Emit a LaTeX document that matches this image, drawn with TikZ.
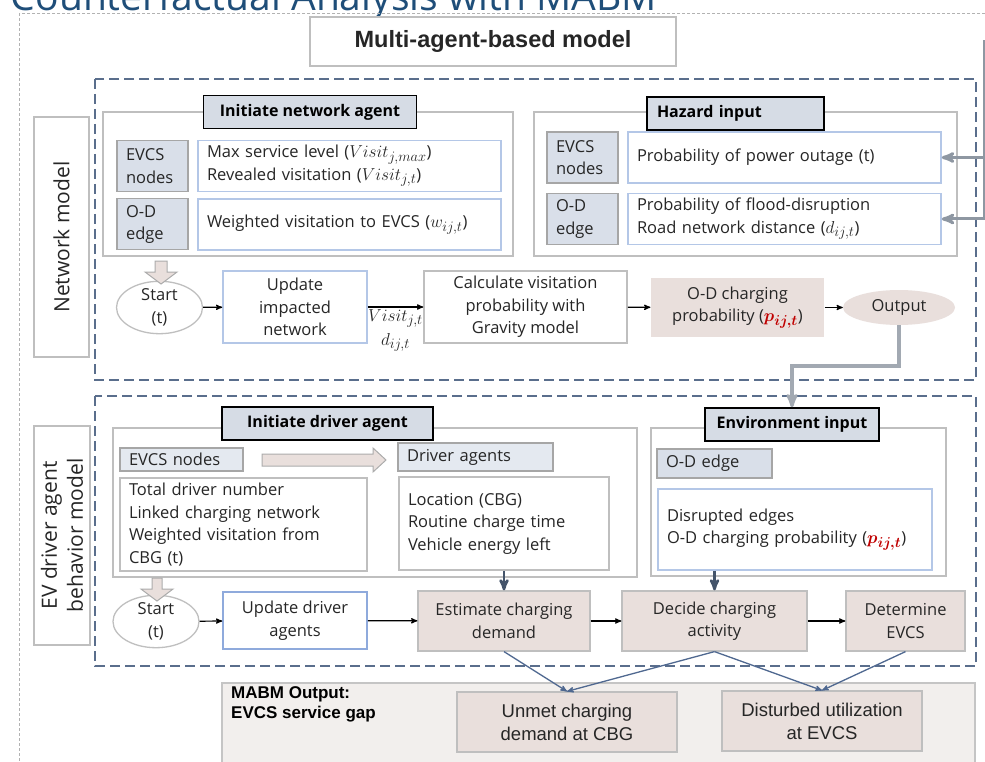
\documentclass[tikz,border=0pt]{standalone}
\usepackage{fontspec}
\usepackage{amsmath}
\usepackage{bm}
\setmainfont{Open Sans}
\newfontfamily\headfont{Liberation Sans}
\usetikzlibrary{positioning,arrows,shapes.geometric}

\definecolor{dashblue}{HTML}{5A6E8C}
\definecolor{boxgrey}{HTML}{BFBFBF}
\definecolor{tagfill}{HTML}{D9DFE9}
\definecolor{titlefill}{HTML}{D6DCE5}
\definecolor{lineblue}{HTML}{B4C7E7}
\definecolor{midblue}{HTML}{8FAADC}
\definecolor{rosefill}{HTML}{E9DFDC}
\definecolor{outfill}{HTML}{F2EFED}
\definecolor{navyarrow}{HTML}{44546A}
\definecolor{feedgrey}{HTML}{8E97A2}
\definecolor{outgrey}{HTML}{A2A9B2}
\definecolor{linkblue}{HTML}{4F6890}
\definecolor{headblue}{HTML}{1F4E79}
\definecolor{pred}{HTML}{C00000}

% larger math inside the text lines
\newcommand{\mv}[1]{{\fontsize{19}{22}\selectfont$#1$}}
\newcommand{\pij}{\textcolor{pred}{\mv{\bm{p_{ij,t}}}}}

\begin{document}
\begin{tikzpicture}[x=1pt,y=-1pt,>=stealth',
  every node/.style={inner sep=0pt,text=black!85,font=\fontsize{16.5}{22.5}\selectfont},
  group box/.style={draw=boxgrey,line width=1.8pt},
  head box/.style={draw=black,fill=titlefill,line width=1.6pt,text=black,
    font=\fontsize{16}{19}\selectfont\bfseries,minimum height=33pt},
  tag box/.style={draw=gray!70,fill=tagfill,line width=1.3pt,align=left,inner xsep=9pt},
  info box/.style={draw=lineblue,fill=white,line width=1.5pt,align=left,inner xsep=9pt},
  plain box/.style={draw=boxgrey,fill=white,line width=1.5pt,align=center},
  rose box/.style={draw=boxgrey,fill=rosefill,line width=1.2pt,align=center},
  start node/.style={ellipse,draw=boxgrey,fill=white,line width=1.3pt,align=center,
    minimum width=86pt,minimum height=46pt},
  side box/.style={draw=boxgrey,fill=white,line width=1.8pt,rotate=90,align=center,
    font=\fontsize{21}{26}\selectfont},
  model frame/.style={draw=dashblue,line width=1.7pt,dash pattern=on 10pt off 5pt},
  hollow arrow/.style={draw=gray!65,fill=rosefill,line width=1pt},
  flow/.style={->,line width=1.2pt,black},
  drop/.style={->,line width=2.6pt,navyarrow},
  feed/.style={->,line width=3pt,feedgrey},
  link/.style={->,line width=1.3pt,linkblue},
  out text/.style={font=\headfont\fontsize{18.5}{23}\selectfont}]

\useasboundingbox (0,0) rectangle (985,762);
\clip (0,0) rectangle (985,762);
\fill[white] (0,0) rectangle (985,762);

\node[anchor=base east,text=headblue,font=\fontsize{39}{40}\selectfont] (slidetitle) at (657,11) {Counterfactual Analysis with MABM};
\draw[gray!60,line width=0.8pt,dash pattern=on 3pt off 2pt] (19,13) rectangle (1010,800);

\node[group box,fill=white,minimum width=366pt,minimum height=49pt,
  font=\headfont\bfseries\fontsize{23.5}{26}\selectfont] (mabm) at (493,41.5) {Multi-agent-based model};

% network model
\draw[model frame] (95,79) rectangle (976,380);
\node[side box,minimum width=240pt,minimum height=55pt] (netside) at (61.5,237) {Network model};
\draw[group box] (103,112) rectangle (513,256);
\draw[group box] (534,112) rectangle (957,256);
\node[head box,minimum width=213pt] (netinit) at (310,112) {Initiate network agent};
\node[tag box,text width=53pt,minimum height=51pt] (evcsA) at (152.5,166) {EVCS\\nodes};
\node[tag box,text width=53pt,minimum height=51pt,below=6pt of evcsA] (odA) {O-D\\edge};
\node[info box,text width=285pt,minimum height=51pt] (visitA) at (349.5,166)
  {Max service level (\mv{Visit_{j,max}})\\Revealed visitation (\mv{Visit_{j,t}})};
\node[info box,text width=285pt,minimum height=51pt,below=6pt of visitA] (weightA)
  {Weighted visitation to EVCS (\mv{w_{ij,t}})};

\node[head box,minimum width=177pt,text width=157pt,align=left,inner xsep=10pt] (hazard) at (735.5,113.5) {Hazard input};
\node[tag box,text width=53pt,minimum height=51pt] (evcsB) at (582.5,157.5) {EVCS\\nodes};
\node[tag box,text width=53pt,minimum height=51pt,below=9pt of evcsB] (odB) {O-D\\edge};
\node[info box,text width=295pt,minimum height=51pt] (powerB) at (784.5,157.5) {Probability of power outage (t)};
\node[info box,text width=295pt,minimum height=51pt,below=9pt of powerB] (floodB)
  {Probability of flood-disruption\\Road network distance (\mv{d_{ij,t}})};

\coordinate (feedtop) at (984,40);
\draw[feed] (feedtop) |- (powerB.east);
\draw[feed] (feedtop) |- (floodB.east);

\node[start node] (startA) at (159.5,307.5) {Start\\(t)};
\node[info box,align=center,inner xsep=0pt,minimum width=144pt,minimum height=72pt] (updA) at (295,307) {Update\\impacted\\network};
\node[plain box,minimum width=203pt,minimum height=72pt] (calcA) at (525.5,307) {Calculate visitation\\probability with\\Gravity model};
\node[rose box,draw=none,minimum width=173pt,minimum height=59pt] (probA) at (737.5,307.5)
  {O-D charging\\probability (\pij)};
\node[ellipse,fill=rosefill,minimum width=112pt,minimum height=35pt] (outA) at (899,307.5) {Output};

\draw[hollow arrow] (155,261) -- (167,261) -- (167,272) -- (177,272) -- (161,284) -- (145,272) -- (155,272) -- cycle;
\draw[flow] (startA) -- (updA);
\draw[flow] (updA) -- node[below=2pt,align=center,font=\fontsize{19}{24}\selectfont] (flowlab) {$Visit_{j,t}$\\$d_{ij,t}$} (calcA);
\draw[flow] (calcA) -- (probA);
\draw[flow] (probA) -- (outA);

% driver model
\draw[model frame] (95,396) rectangle (976,666);
\node[side box,minimum width=219pt,minimum height=56pt] (drvside) at (62,535.5) {EV driver agent\\behavior model};
\draw[group box] (113,428) rectangle (637,577);
\draw[group box] (651,428) rectangle (946,576);
\node[head box,minimum width=211pt] (drvinit) at (327.5,423.5) {Initiate driver agent};
\node[tag box,fill=tagfill!70,text width=105pt,minimum height=23pt] (evcsC) at (181.5,459.5) {EVCS nodes};
\draw[hollow arrow] (262,454) -- (373,454) -- (373,448) -- (386,460) -- (373,472) -- (373,466) -- (262,466) -- cycle;
\node[tag box,fill=tagfill!70,text width=137pt,minimum height=28pt] (drvC) at (475.5,457) {Driver agents};
\node[plain box,align=left,inner xsep=9pt,text width=229pt,minimum height=93pt] (totalC) at (243.5,524.5)
  {Total driver number\\Linked charging network\\Weighted visitation from\\CBG (t)};
\node[plain box,align=left,inner xsep=9pt,text width=192pt,minimum height=93pt] (locC) at (504,523.5)
  {Location (CBG)\\Routine charge time\\Vehicle energy left};

\node[head box,minimum width=174pt] (envC) at (792,424.5) {Environment input};
\node[tag box,text width=97pt,minimum height=29pt] (odC) at (714.5,463.5) {O-D edge};
\node[info box,text width=256pt,minimum height=81pt] (disC) at (795,529.5)
  {Disrupted edges\\O-D charging probability (\pij)};

\node[start node,minimum height=47pt] (startC) at (156,621.5) {Start\\(t)};
\draw[hollow arrow] (152,578) -- (162,578) -- (162,589) -- (173,589) -- (157,601) -- (141,589) -- (152,589) -- cycle;
\node[info box,draw=midblue,align=center,inner xsep=0pt,minimum width=144pt,minimum height=57pt] (updC) at (295,620.5) {Update driver\\agents};
\node[rose box,minimum width=172pt,minimum height=60pt] (estC) at (504,621) {Estimate charging\\demand};
\node[rose box,minimum width=185pt,minimum height=60pt] (decC) at (714.5,621) {Decide charging\\activity};
\node[rose box,minimum width=119pt,minimum height=60pt] (detC) at (905.5,621) {Determine\\EVCS};

\draw[flow] (startC) -- (updC);
\draw[flow] (updC) -- (estC);
\draw[flow] (estC) -- (decC);
\draw[flow] (decC) -- (detC);
\draw[drop] (locC.south) -- (estC.north);
\draw[drop] (disC.south -| decC.north) -- (decC.north);

\coordinate (turn) at (792,366);
\draw[feed,outgrey,line width=3.2pt] (outA.south) |- (turn) -- (envC.north);

% output
\draw[fill=outfill,draw=boxgrey!90,line width=1.5pt] (222,683) rectangle (975,800);
\node[anchor=north west,align=left,text=black,font=\headfont\bfseries\fontsize{17}{20}\selectfont] (gaplab) at (231,686) {MABM Output:\\EVCS service gap};
\node[rose box,out text,minimum width=220pt,minimum height=60pt] (unmetD) at (567,722) {Unmet charging\\demand at CBG};
\node[rose box,out text,minimum width=200pt,minimum height=60pt] (distD) at (822,721) {Disturbed utilization\\at EVCS};
\draw[link] (estC.south) -- (unmetD.north);
\draw[link] (decC.south) -- (unmetD.north);
\draw[link] (decC.south) -- (distD.north);
\draw[link] (detC.south) -- (distD.north);
\end{tikzpicture}
\end{document}
